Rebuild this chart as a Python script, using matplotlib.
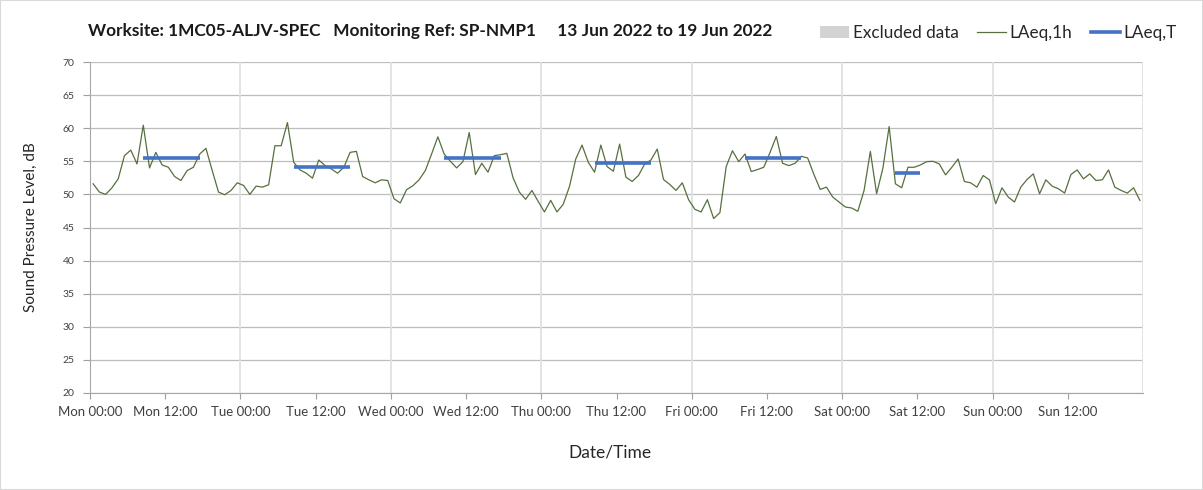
import matplotlib
matplotlib.use("Agg")
import matplotlib.pyplot as plt
import numpy as np
from matplotlib.patches import Patch, Rectangle
from matplotlib.lines import Line2D

plt.rcParams['font.family'] = ['Lato', 'DejaVu Sans']

# Hourly LAeq,1h values (Mon 00:00 .. Sun 23:00)
mon = [51.6, 50.35, 50.0, 51.0, 52.35, 55.85, 56.7, 54.6, 60.45, 54.0, 56.35, 54.45,
       54.1, 52.7, 52.1, 53.6, 54.1, 56.1, 56.95, 53.6, 50.35, 49.95, 50.6, 51.75]
tue = [51.35, 50.0, 51.25, 51.1, 51.45, 57.35, 57.35, 60.85, 54.85, 53.7, 53.2, 52.45,
       55.2, 54.35, 53.85, 53.2, 54.1, 56.35, 56.5, 52.7, 52.2, 51.75, 52.2, 52.1]
wed = [49.35, 48.7, 50.7, 51.3, 52.2, 53.6, 56.1, 58.7, 56.1, 55.0, 54.0, 54.95,
       59.35, 53.0, 54.7, 53.35, 55.85, 56.0, 56.2, 52.5, 50.35, 49.25, 50.6, 48.95]
thu = [47.35, 49.1, 47.35, 48.5, 51.2, 55.35, 57.45, 54.85, 53.35, 57.45, 54.2, 53.5,
       57.6, 52.6, 51.95, 52.85, 54.6, 55.2, 56.85, 52.25, 51.5, 50.6, 51.75, 49.2]
fri = [47.75, 47.35, 49.2, 46.35, 47.25, 54.2, 56.6, 54.95, 56.1, 53.45, 53.75, 54.1,
       56.35, 58.75, 54.7, 54.35, 54.7, 55.75, 55.5, 53.0, 50.75, 51.1, 49.6, 48.85]
sat = [48.1, 47.95, 47.45, 50.6, 56.5, 50.1, 53.95, 60.25, 51.6, 51.0, 54.1, 54.1,
       54.45, 54.95, 55.0, 54.6, 52.95, 54.1, 55.35, 51.95, 51.75, 51.1, 52.85, 52.2]
sun = [48.6, 51.0, 49.6, 48.85, 51.1, 52.25, 53.1, 50.1, 52.2, 51.25, 50.85, 50.2,
       53.0, 53.7, 52.35, 53.1, 52.1, 52.2, 53.7, 51.1, 50.6, 50.2, 51.0, 49.1]
laeq_1h = mon + tue + wed + thu + fri + sat + sun

# LAeq,T periods: (day index, start hour, end hour, level)
laeq_t_day = [0, 1, 2, 3, 4, 5]
laeq_t_start = [8, 8, 8, 8, 8, 8]
laeq_t_end = [17, 17, 17, 17, 17, 12]
laeq_t_val = [55.45, 54.15, 55.5, 54.75, 55.5, 53.25]

tick_labels = ["Mon 00:00", "Mon 12:00", "Tue 00:00", "Tue 12:00", "Wed 00:00", "Wed 12:00",
               "Thu 00:00", "Thu 12:00", "Fri 00:00", "Fri 12:00", "Sat 00:00", "Sat 12:00",
               "Sun 00:00", "Sun 12:00"]
yticks = [20, 25, 30, 35, 40, 45, 50, 55, 60, 65, 70]

W, H = 1203, 490
fig = plt.figure(figsize=(W / 100, H / 100), dpi=100)
ax = fig.add_axes([90 / W, 1 - 393 / H, (1143 - 90) / W, (393 - 62) / H])

hours = np.arange(len(laeq_1h)) + 0.5
green = "#56703f"
blue = "#4472c4"
ax.plot(hours, laeq_1h, color=green, lw=0.9, zorder=3)
for d, s, e, v in zip(laeq_t_day, laeq_t_start, laeq_t_end, laeq_t_val):
    ax.plot([d * 24 + s + 0.5, d * 24 + e + 0.5], [v, v], color=blue, lw=2.6,
            solid_capstyle="butt", zorder=4)

ax.set_xlim(0, 168)
ax.set_ylim(20, 70)
ax.set_yticks(yticks)
ax.set_yticklabels([str(t) for t in yticks], fontsize=7.5, color="#404040")
ax.set_xticks(np.arange(0, 168, 12))
ax.set_xticklabels(tick_labels, fontsize=9.5, color="#404040")
ax.tick_params(axis="y", length=5, width=0.8, color="#a0a0a0", pad=6)
ax.tick_params(axis="x", length=4, width=0.8, color="#a0a0a0", pad=5)

for y in yticks:
    ax.axhline(y, color="#bdbdbd", lw=0.9, zorder=1)
for x in range(24, 169, 24):
    ax.axvline(x, color="#e0e0e0", lw=1.3, zorder=1)

for side in ["top", "right"]:
    ax.spines[side].set_visible(False)
ax.spines["left"].set_color("#a6a6a6")
ax.spines["bottom"].set_color("#a6a6a6")

ax.set_ylabel("Sound Pressure Level, dB", fontsize=11, color="#262626")
ax.yaxis.set_label_coords((38 - 90) / (1143 - 90), 0.5)
ax.set_xlabel("Date/Time", fontsize=12.5, color="#262626")
ax.xaxis.set_label_coords((609.5 - 90) / (1143 - 90), -(452 - 393) / (393 - 62))
ax.xaxis.label.set_va("center")

fig.text(88 / W, 1 - 31 / H,
         "Worksite: 1MC05-ALJV-SPEC   Monitoring Ref: SP-NMP1     13 Jun 2022 to 19 Jun 2022",
         fontsize=12.4, fontweight="bold", ha="left", va="center", color="#1a1a1a")

handles = [Patch(facecolor="#d3d3d3", edgecolor="none"),
           Line2D([0], [0], color=green, lw=0.9),
           Line2D([0], [0], color=blue, lw=2.6)]
leg = fig.legend(handles, ["Excluded data", "LAeq,1h", "LAeq,T"], loc="center right",
                 bbox_to_anchor=(1177 / W, 1 - 33 / H), ncol=3, frameon=False,
                 fontsize=12.3, handlelength=1.7, handletextpad=0.2, columnspacing=1.1,
                 borderaxespad=0, borderpad=0)
for t in leg.get_texts():
    t.set_color("#262626")

fig.patches.append(Rectangle((0, 0), 1, 1, transform=fig.transFigure, fill=False,
                             edgecolor="#d9d9d9", lw=1.5))

fig.savefig("out.png", dpi=100)
